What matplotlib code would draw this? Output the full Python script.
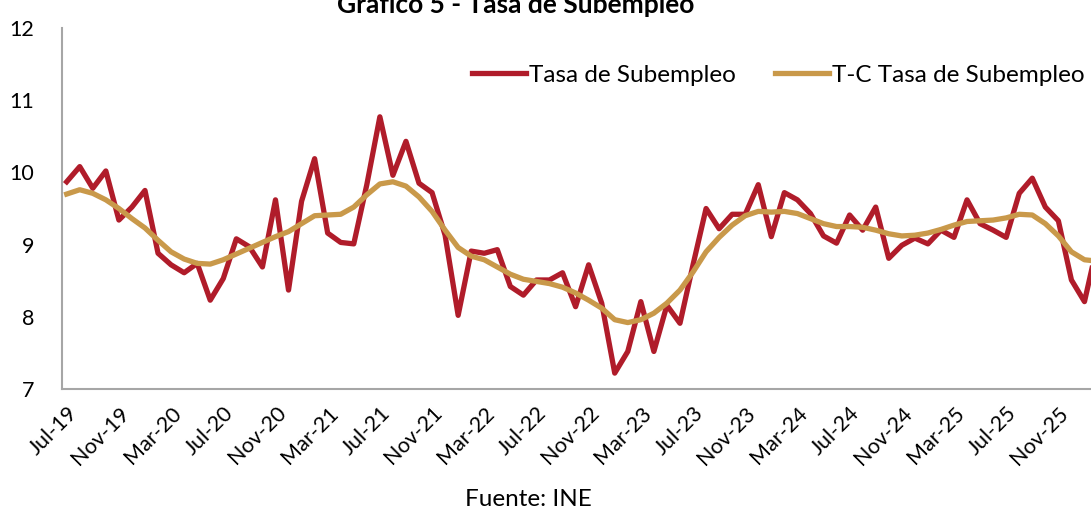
import numpy as np
import matplotlib.pyplot as plt

plt.rcParams['font.family'] = ['Lato', 'DejaVu Sans']

# monthly data, Jul-19 .. Feb-26
tasa = [9.87, 10.08, 9.78, 10.02, 9.34, 9.52, 9.75, 8.88, 8.72, 8.61, 8.74, 8.23,
        8.53, 9.08, 8.97, 8.69, 9.62, 8.37, 9.60, 10.19, 9.16, 9.03, 9.01, 9.83,
        10.77, 9.96, 10.43, 9.85, 9.72, 9.13, 8.02, 8.91, 8.88, 8.93, 8.42, 8.30,
        8.51, 8.51, 8.61, 8.14, 8.72, 8.19, 7.22, 7.52, 8.21, 7.52, 8.16, 7.91,
        8.72, 9.50, 9.22, 9.42, 9.42, 9.83, 9.11, 9.72, 9.62, 9.43, 9.12, 9.02,
        9.41, 9.20, 9.52, 8.81, 8.99, 9.09, 9.01, 9.20, 9.10, 9.62, 9.29, 9.20,
        9.10, 9.71, 9.92, 9.52, 9.33, 8.51, 8.21, 9.01]

tendencia = [9.70, 9.76, 9.71, 9.62, 9.50, 9.36, 9.23, 9.06, 8.90, 8.80, 8.74, 8.73,
             8.79, 8.87, 8.95, 9.03, 9.11, 9.18, 9.29, 9.40, 9.41, 9.42, 9.52, 9.69,
             9.84, 9.87, 9.81, 9.66, 9.46, 9.20, 8.96, 8.84, 8.79, 8.69, 8.59, 8.52,
             8.49, 8.46, 8.41, 8.33, 8.23, 8.12, 7.96, 7.92, 7.96, 8.05, 8.19, 8.37,
             8.62, 8.90, 9.10, 9.27, 9.40, 9.46, 9.45, 9.46, 9.43, 9.36, 9.29, 9.25,
             9.25, 9.24, 9.20, 9.15, 9.12, 9.13, 9.16, 9.21, 9.27, 9.32, 9.33, 9.34,
             9.37, 9.42, 9.41, 9.29, 9.12, 8.90, 8.79, 8.77]

tick_labels = ["Jul-19", "Nov-19", "Mar-20", "Jul-20", "Nov-20", "Mar-21", "Jul-21",
               "Nov-21", "Mar-22", "Jul-22", "Nov-22", "Mar-23", "Jul-23", "Nov-23",
               "Mar-24", "Jul-24", "Nov-24", "Mar-25", "Jul-25", "Nov-25"]

x = np.arange(len(tasa))

fig = plt.figure(figsize=(10.91, 5.15), dpi=100)
ax = fig.add_axes([62/1091, 1-389/515, 1-62/1091, (389-28)/515])

ax.plot(x, tasa, color="#B01C2A", lw=3.8, label="Tasa de Subempleo")
ax.plot(x, tendencia, color="#C9994A", lw=3.8, label="T-C Tasa de Subempleo")

ax.set_ylim(7, 12)
ax.set_xlim(-0.36, 78.5)
ax.set_yticks([7, 8, 9, 10, 11, 12])
ax.set_xticks(np.arange(0, len(tick_labels)*4, 4))
ax.set_xticklabels(tick_labels, rotation=45, ha="right", rotation_mode="anchor")
ax.tick_params(axis="both", length=0, labelsize=15.5, colors="black")
ax.tick_params(axis="x", pad=10)
ax.tick_params(axis="y", pad=20)
for s in ["top", "right"]:
    ax.spines[s].set_visible(False)
for s in ["left", "bottom"]:
    ax.spines[s].set_color("#A6A6A6")
    ax.spines[s].set_linewidth(1.5)

ax.legend(loc="center right", bbox_to_anchor=((1085-62)/1029, (389-75)/361), ncol=2,
          frameon=False, fontsize=17.5, handlelength=2.2, handletextpad=0.15,
          columnspacing=1.6, borderpad=0, borderaxespad=0)

fig.text(516/1091, 1-13/515, "Gráfico 5 - Tasa de Subempleo", ha="center", va="baseline",
         fontsize=19, fontweight="bold")
fig.text(528/1091, 1-500/515, "Fuente: INE", ha="center", va="center", fontsize=17.5)

fig.savefig("out.png", dpi=100)
